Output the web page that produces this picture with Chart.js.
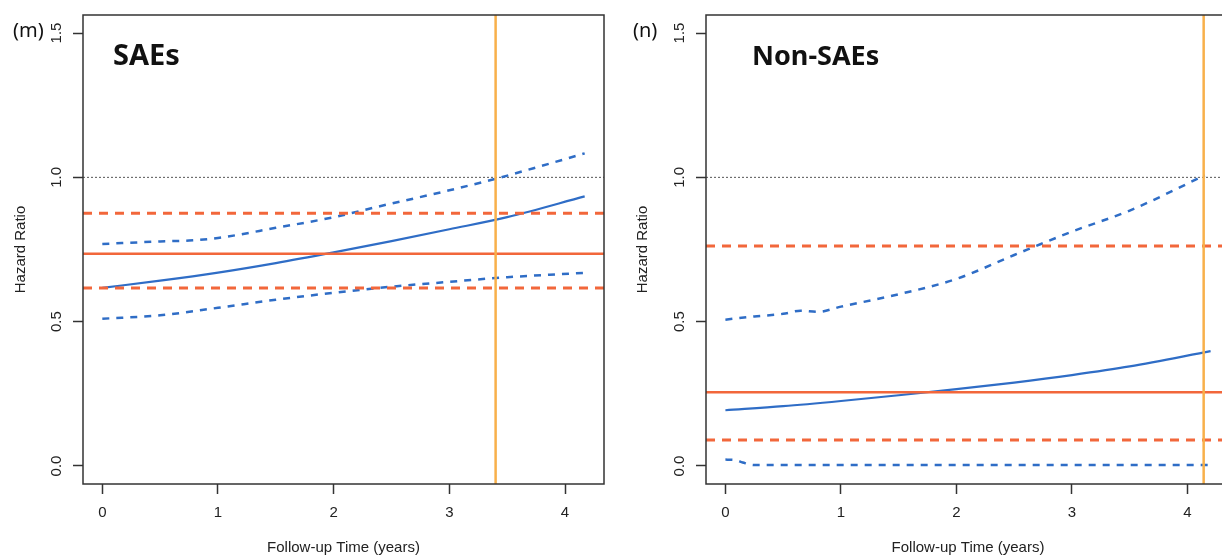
<!DOCTYPE html>
<html>
<head>
<meta charset="utf-8">
<script src="https://cdn.jsdelivr.net/npm/chart.js@4/dist/chart.umd.min.js"></script>
<style>
    html, body { margin: 0; padding: 0; background: #fff; overflow: hidden; }
    body { width: 1222px; height: 556px; position: relative; }
    .panel { position: absolute; top: 0; }
    #panel-m { left: 0; }
    #panel-n { left: 612px; }
</style>
</head>
<body>
<div class="panel" id="panel-m"><canvas id="chartM" width="612" height="556"></canvas></div>
<div class="panel" id="panel-n"><canvas id="chartN" width="626" height="556"></canvas></div>
<script>
const yTicks = [0, 0.5, 1, 1.5];
const xTicks = [0, 1, 2, 3, 4];
const refLine = 1.0;

// (m) SAEs
const timeM = [0, 0.5, 1, 1.5, 2, 2.5, 3, 3.5, 4.17];
const hrM = [0.617, 0.642, 0.670, 0.703, 0.740, 0.779, 0.820, 0.862, 0.934];
const lowerM = [0.510, 0.522, 0.548, 0.576, 0.600, 0.621, 0.638, 0.654, 0.669];
const upperTimeM = [0, 0.5, 0.75, 1, 1.5, 2, 2.4, 3, 3.4, 3.8, 4.17];
const upperM = [0.769, 0.778, 0.781, 0.790, 0.825, 0.862, 0.900, 0.955, 0.995, 1.040, 1.083];
const estM = 0.735;
const ciM = [0.617, 0.876];
const cutoffM = 3.4;

// (n) Non-SAEs
const timeN = [0, 0.5, 1, 1.5, 2, 2.5, 3, 3.5, 4.2];
const hrN = [0.193, 0.207, 0.225, 0.245, 0.266, 0.289, 0.315, 0.345, 0.398];
const upperTimeN = [0, 0.25, 0.5, 0.65, 0.8, 1, 1.5, 2, 2.5, 3, 3.5, 4.15];
const upperN = [0.507, 0.518, 0.527, 0.538, 0.534, 0.552, 0.595, 0.648, 0.731, 0.812, 0.885, 1.007];
const lowerTimeN = [0, 0.08, 0.15, 0.25, 1, 2, 3, 4.2];
const lowerN = [0.022, 0.021, 0.012, 0.003, 0.003, 0.003, 0.003, 0.003];
const estN = 0.255;
const ciN = [0.09, 0.762];
const cutoffN = 4.14;

const BLUE = "#2f6dc6";
const RED = "#f2673b";
const GOLD = "#f8b04a";
const AXIS = "#333";
const LABEL_FONT = { family: "'Liberation Sans', Arial", size: 15 };

function points(xs, ys) {
    return xs.map((x, i) => ({ x: x, y: ys[i] }));
}

// R style box round the plot region plus the panel letter and title
const decorPlugin = {
    id: "decor",
    afterDraw(chart, args, opts) {
        const ctx = chart.ctx;
        const a = chart.chartArea;
        ctx.save();
        ctx.strokeStyle = AXIS;
        ctx.lineWidth = 1.5;
        ctx.strokeRect(a.left, a.top, a.right - a.left, a.bottom - a.top);
        ctx.fillStyle = "#111";
        ctx.font = "20px 'Noto Sans'";
        ctx.fillText(opts.letter, opts.letterX, 37);
        ctx.font = "bold " + opts.titleSize + "px 'Noto Sans'";
        ctx.fillText(opts.title, opts.titleX, 65);
        ctx.restore();
    }
};

function makeChart(id, p) {
    const xMin = p.xRange[0];
    const xMax = p.xRange[1];
    const yMin = -0.0625;
    const yMax = 1.5625;
    const flat = (v) => [{ x: xMin, y: v }, { x: xMax, y: v }];

    // listed top-most first
    const datasets = [
        { data: [{ x: p.cutoff, y: yMin }, { x: p.cutoff, y: yMax }], borderColor: GOLD, borderWidth: 2.5 },
        { data: flat(p.est), borderColor: RED, borderWidth: 2.5 },
        { data: flat(p.ci[0]), borderColor: RED, borderWidth: 3, borderDash: [9, 7] },
        { data: flat(p.ci[1]), borderColor: RED, borderWidth: 3, borderDash: [9, 7] },
        { data: points(p.time, p.hr), borderColor: BLUE, borderWidth: 2.2, cubicInterpolationMode: "monotone" },
        { data: points(p.upperTime, p.upper), borderColor: BLUE, borderWidth: 2.5, borderDash: [7, 7], cubicInterpolationMode: "monotone" },
        { data: points(p.lowerTime, p.lower), borderColor: BLUE, borderWidth: 2.5, borderDash: [7, 7], cubicInterpolationMode: "monotone" },
        { data: flat(refLine), borderColor: "#555", borderWidth: 1, borderDash: [2, 2] }
    ];
    datasets.forEach(d => { d.pointRadius = 0; d.fill = false; });

    return new Chart(document.getElementById(id), {
        type: "line",
        data: { datasets: datasets },
        plugins: [decorPlugin],
        options: {
            responsive: false,
            animation: false,
            devicePixelRatio: 1,
            layout: { padding: { left: 0, right: 8, top: 15, bottom: 0 } },
            plugins: {
                legend: { display: false },
                tooltip: { enabled: false },
                decor: { letter: p.letter, letterX: p.letterX, title: p.title, titleX: p.titleX, titleSize: p.titleSize }
            },
            scales: {
                x: {
                    type: "linear",
                    min: xMin,
                    max: xMax,
                    afterBuildTicks: (s) => { s.ticks = xTicks.map(v => ({ value: v })); },
                    afterFit: (s) => { s.height = 72; },
                    grid: { drawOnChartArea: false, drawTicks: true, tickLength: 10, color: AXIS, tickWidth: 1.5 },
                    border: { display: false },
                    ticks: {
                        autoSkip: false, maxRotation: 0, padding: 10, color: "#222",
                        font: LABEL_FONT,
                        callback: (v) => String(v)
                    },
                    title: {
                        display: true, text: "Follow-up Time (years)", color: "#222",
                        font: LABEL_FONT, padding: { top: 0, bottom: -1 }
                    }
                },
                y: {
                    type: "linear",
                    min: yMin,
                    max: yMax,
                    afterBuildTicks: (s) => { s.ticks = yTicks.map(v => ({ value: v })); },
                    afterFit: (s) => { s.width = p.yAxisWidth; },
                    grid: { drawOnChartArea: false, drawTicks: true, tickLength: 10, color: AXIS, tickWidth: 1.5 },
                    border: { display: false },
                    ticks: {
                        minRotation: 90, maxRotation: 90, crossAlign: "center", padding: 6, color: "#222",
                        font: LABEL_FONT,
                        callback: (v) => v.toFixed(1)
                    },
                    title: {
                        display: true, text: "Hazard Ratio", color: "#222",
                        font: LABEL_FONT, padding: { top: p.yTitlePad, bottom: 0 }
                    }
                }
            }
        }
    });
}

makeChart("chartM", {
    xRange: [-0.167, 4.337], yAxisWidth: 83, yTitlePad: 12,
    time: timeM, hr: hrM, upperTime: upperTimeM, upper: upperM, lowerTime: timeM, lower: lowerM,
    est: estM, ci: ciM, cutoff: cutoffM,
    letter: "(m)", letterX: 13, title: "SAEs", titleX: 113, titleSize: 29
});

makeChart("chartN", {
    xRange: [-0.168, 4.368], yAxisWidth: 94, yTitlePad: 22,
    time: timeN, hr: hrN, upperTime: upperTimeN, upper: upperN, lowerTime: lowerTimeN, lower: lowerN,
    est: estN, ci: ciN, cutoff: cutoffN,
    letter: "(n)", letterX: 21, title: "Non-SAEs", titleX: 140, titleSize: 27
});
</script>
</body>
</html>
